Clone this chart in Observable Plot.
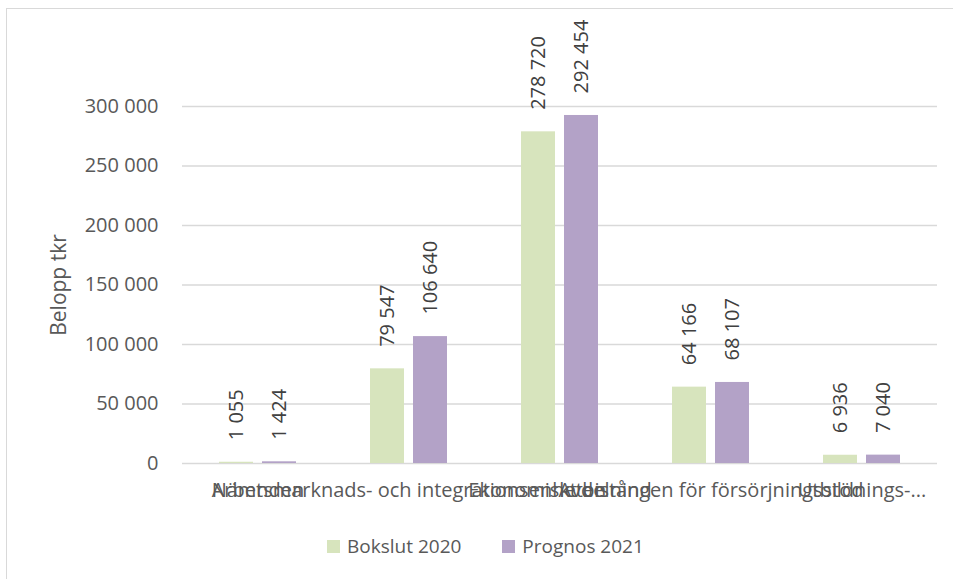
<!DOCTYPE html>
<html>
<head>
<meta charset="utf-8">
<script src="https://cdn.jsdelivr.net/npm/d3@7"></script>
<script src="https://cdn.jsdelivr.net/npm/@observablehq/plot@0.6"></script>
<style>
  body { margin: 0; background: #fff; }
  #wrap { position: relative; width: 953px; height: 579px; overflow: hidden; background: #fff; font-family: "Open Sans", sans-serif; }
  #frame { position: absolute; left: 6px; top: 8px; width: 1200px; height: 800px; border: 1.5px solid #d9d9d9; box-sizing: border-box; }
  #chart { position: absolute; left: 0; top: 0; }
  #ytitle { position: absolute; left: 58px; top: 285px; transform: translate(-50%, -50%) rotate(-90deg); font-size: 21px; color: #595959; white-space: nowrap; line-height: 1; }
  #legend { position: absolute; left: 327px; top: 533px; display: flex; align-items: center; font-size: 19px; color: #595959; white-space: nowrap; }
  .item { display: flex; align-items: center; margin-right: 41px; }
  .sw { width: 13px; height: 13px; margin-right: 7px; display: inline-block; }
</style>
</head>
<body>
<div id="wrap">
  <div id="frame"></div>
  <div id="chart"></div>
  <div id="ytitle"></div>
  <div id="legend"></div>
</div>
<script>
const categories = ["Nämnden", "Arbetsmarknads- och integrationsenheten", "Ekonomiskt bistånd", "Avdelningen för försörjningsstöd", "Utbildnings-..."];
const series = ["Bokslut 2020", "Prognos 2021"];
const bokslut2020 = [1055, 79547, 278720, 64166, 6936];
const prognos2021 = [1424, 106640, 292454, 68107, 7040];
const colors = ["#d7e4bd", "#b3a2c7"];
const yTicks = [0, 50000, 100000, 150000, 200000, 250000, 300000];
const yTitle = "Belopp tkr";

const fmt = d => d3.format(",")(d).replace(/,/g, "\u00a0");

const data = categories.flatMap((c, i) => [
  {cat: c, serie: series[0], value: bokslut2020[i]},
  {cat: c, serie: series[1], value: prognos2021[i]}
]);

const chart = Plot.plot({
  width: 953,
  height: 520,
  marginLeft: 182,
  marginRight: 16,
  marginTop: 106,
  marginBottom: 57,
  style: {fontFamily: "'Open Sans', sans-serif", fontSize: "20px", color: "#595959", background: "transparent"},
  fx: {domain: categories, padding: 0, axis: "bottom", tickSize: 0, tickPadding: 19, label: null},
  x: {domain: series, paddingInner: 0.209, paddingOuter: 0.86, axis: null},
  y: {domain: [0, 300000], ticks: yTicks, tickFormat: fmt, tickSize: 0, tickPadding: 24, label: null},
  color: {domain: series, range: colors},
  marks: [
    Plot.ruleY(yTicks, {stroke: "#d9d9d9", strokeWidth: 1.5}),
    Plot.barY(data, {fx: "cat", x: "serie", y: "value", fill: "serie"}),
    Plot.text(data, {fx: "cat", x: "serie", y: "value", text: d => fmt(d.value), rotate: -90,
      textAnchor: "start", dy: -22, fill: "#404040", fontSize: 20})
  ]
});
document.getElementById("chart").appendChild(chart);
document.getElementById("ytitle").textContent = yTitle;

const legend = document.getElementById("legend");
series.forEach((s, i) => {
  const item = document.createElement("div");
  item.className = "item";
  const sw = document.createElement("span");
  sw.className = "sw";
  sw.style.background = colors[i];
  const t = document.createElement("span");
  t.textContent = s;
  item.appendChild(sw);
  item.appendChild(t);
  legend.appendChild(item);
});
</script>
</body>
</html>
